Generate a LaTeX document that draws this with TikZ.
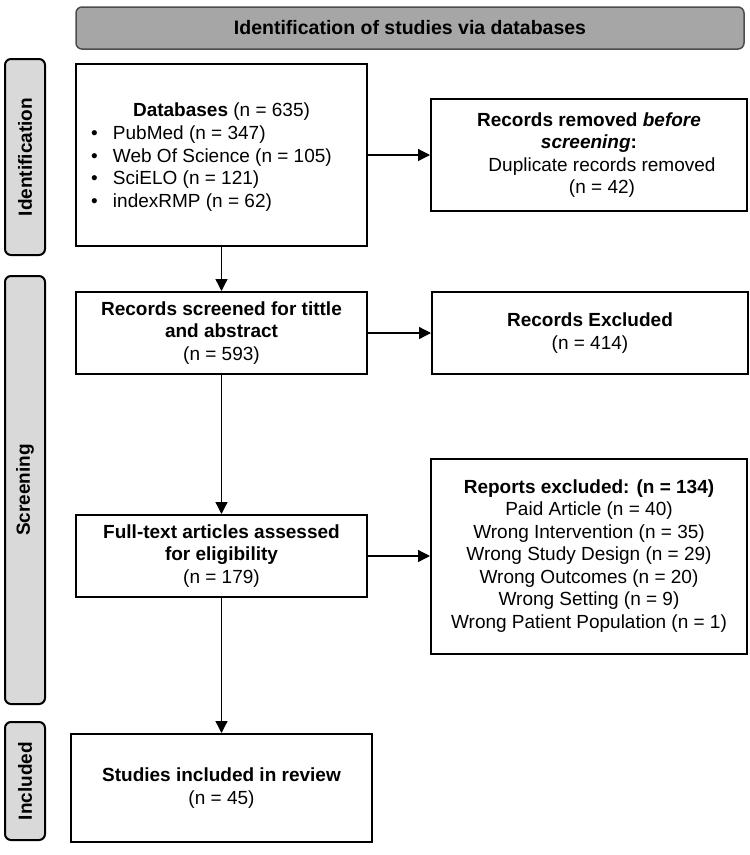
\documentclass[tikz,border=0pt]{standalone}
\usepackage{fontspec}
\setmainfont{Liberation Sans}
\usetikzlibrary{arrows.meta,positioning}
\newcommand{\dbline}[1]{\makebox[261pt][l]{\makebox[22pt][l]{\textbullet}#1}}

\begin{document}
\begin{tikzpicture}[->,>={Triangle[length=12pt,width=12pt]},x=1pt,y=-1pt,line width=1.3pt,
    box/.style={draw,line width=2pt,rectangle,align=center,inner sep=0pt,font=\fontsize{19}{22.5}\selectfont},
    side/.style={draw,line width=2pt,rounded corners=6pt,fill=black!15,rotate=90,minimum height=40pt,inner sep=0pt,font=\fontsize{19}{22}\selectfont\bfseries}]
  \useasboundingbox (0,0) rectangle (750,855);
  \node[draw=black!70,line width=1.5pt,rounded corners=6pt,fill=black!35,minimum width=668pt,minimum height=42pt,font=\fontsize{19.5}{22}\selectfont\bfseries] (head) at (410,28) {Identification of studies via databases};
  \node[side,minimum width=196pt] (sid) at (25,157) {Identification};
  \node[side,minimum width=428pt] (sscr) at (25,490) {Screening};
  \node[side,minimum width=118pt] (sinc) at (25,781) {Included};
  \node[box,minimum width=291pt,minimum height=182pt,text depth=0pt] (db) at (221.5,155) {\textbf{Databases} (n = 635)\\[1pt]
    \dbline{PubMed (n = 347)}\\ \dbline{Web Of Science (n = 105)}\\ \dbline{SciELO (n = 121)}\\ \dbline{indexRMP (n = 62)}};
  \node[box,minimum width=316pt,minimum height=112pt,right=62pt of db] (rem) {\textbf{Records removed \textit{before}}\\ \textbf{\textit{screening}:}\\
    \hspace*{26pt}Duplicate records removed\\ \hspace*{26pt}(n = 42)};
  \node[box,minimum width=291pt,minimum height=82pt,below=44pt of db] (scr) {\textbf{Records screened for tittle}\\ \textbf{and abstract}\\ (n = 593)};
  \node[box,minimum width=316pt,minimum height=82pt,right=63pt of scr] (exc) {\textbf{Records Excluded}\\ (n = 414)};
  \node[box,minimum width=291pt,minimum height=82pt,below=139pt of scr] (full) {\textbf{Full-text articles assessed}\\ \textbf{for eligibility}\\ (n = 179)};
  \node[box,minimum width=316pt,minimum height=195pt,right=62pt of full] (rep) {\textbf{Reports excluded: (n = 134)}\\ Paid Article (n = 40)\\ Wrong Intervention (n = 35)\\
    Wrong Study Design (n = 29)\\ Wrong Outcomes (n = 20)\\ Wrong Setting (n = 9)\\ Wrong Patient Population (n = 1)};
  \node[box,minimum width=301pt,minimum height=108pt,below=135pt of full] (inc) {\textbf{Studies included in review}\\ (n = 45)};
  \path (db) edge (scr)
    (scr) edge (full)
    (full) edge (inc)
    (db) edge (rem)
    (scr) edge (exc)
    (full) edge (rep);
\end{tikzpicture}
\end{document}
